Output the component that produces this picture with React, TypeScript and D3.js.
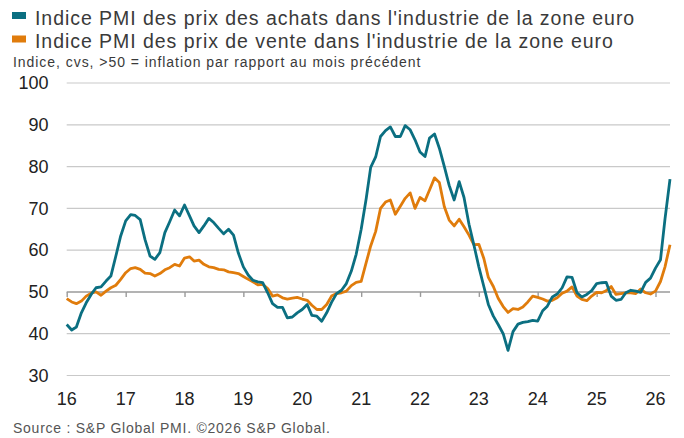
import { useEffect, useRef } from 'react';
import * as d3 from 'd3';

const WIDTH = 684;
const HEIGHT = 438;

const START_YEAR = 2016;
const START_MONTH = 0;

// Indice PMI des prix des achats (teal), mensuel depuis janv. 2016
const inputPrices = [
  42.2, 40.9, 41.6, 45.0, 47.4, 49.4, 51.0, 51.2, 52.6, 53.8, 58.6, 63.4,
  67.0, 68.5, 68.3, 67.3, 62.5, 58.6, 57.8, 59.4, 64.2, 66.8, 69.6, 68.2,
  70.8, 68.2, 65.8, 64.2, 65.8, 67.6, 66.6, 65.2, 63.9, 65.0, 63.6, 59.3,
  56.0, 54.0, 52.8, 52.4, 52.2, 49.8, 47.2, 46.3, 46.3, 43.8, 44.0, 45.0,
  45.8, 47.0, 44.4, 44.2, 43.0, 45.0, 47.5, 49.6, 50.4, 52.0, 55.0, 59.0,
  65.0, 72.3, 79.8, 82.3, 87.2, 88.6, 89.5, 87.2, 87.2, 89.8, 88.8, 86.4,
  83.5, 82.4, 86.8, 87.8, 84.4, 80.0, 75.5, 72.0, 76.4, 72.6, 66.2, 61.3,
  56.0, 51.3, 47.0, 44.2, 42.2, 40.0, 36.0, 40.5, 42.3, 42.7, 42.9, 43.2,
  43.0, 45.5, 46.6, 48.8, 49.5, 51.0, 53.6, 53.5, 49.8, 48.8, 49.4, 50.3,
  52.0, 52.2, 52.3, 49.0, 48.0, 48.2, 49.8, 50.4, 50.2, 49.9, 52.3, 53.3,
  55.7, 57.7, 67.5, 77.0
];

// Indice PMI des prix de vente (orange)
const outputPrices = [
  48.4, 47.6, 47.2, 47.8, 49.0, 49.7, 50.0, 49.2, 50.2, 51.0, 51.6, 53.0,
  54.6, 55.6, 55.8, 55.4, 54.5, 54.4, 53.8, 54.4, 55.3, 55.8, 56.6, 56.2,
  58.1, 58.4, 57.4, 57.6, 56.6, 56.0, 55.8, 55.4, 55.3, 54.8, 54.6, 54.4,
  53.7, 53.0, 52.4, 51.7, 51.8, 50.8, 49.0, 49.3, 48.6, 48.3, 48.5, 48.7,
  48.3, 48.0, 46.8, 45.8, 45.8, 47.0, 49.0, 49.6, 49.8, 50.2, 51.5, 52.3,
  52.5, 57.0, 61.0, 64.5, 70.0, 71.5, 72.0, 68.6, 70.5, 72.4, 73.7, 70.0,
  72.6, 71.8, 74.4, 77.3, 76.2, 70.4, 67.2, 65.8, 67.4, 65.6, 63.6, 61.3,
  61.4, 58.0, 53.5, 51.3, 48.5, 46.5, 45.1, 46.0, 45.8, 46.4, 47.6, 49.0,
  48.7, 48.3, 47.8, 48.0, 48.6, 49.7, 50.2, 51.2, 49.0, 48.2, 47.9, 49.0,
  49.9, 49.8, 50.3, 51.3, 49.4, 49.6, 49.8, 49.8, 49.6, 50.7, 49.8, 49.5,
  50.2, 52.5, 56.0, 61.3
];

const yTicks = [30, 40, 50, 60, 70, 80, 90, 100];

const legendItems = [
  { label: "Indice PMI des prix des achats dans l'industrie de la zone euro", color: '#0b6f81' },
  { label: "Indice PMI des prix de vente dans l'industrie de la zone euro", color: '#e07c0c' }
];

const subtitle = 'Indice, cvs, >50 = inflation par rapport au mois précédent';
const sourceText = 'Source : S&P Global PMI. ©2026 S&P Global.';

const FONT = '"Liberation Sans", Arial, sans-serif';

export default function App() {
  const svgRef = useRef<SVGSVGElement>(null);

  useEffect(() => {
    if (!svgRef.current) return;
    const svg = d3.select(svgRef.current);
    svg.selectAll('*').remove();

    const dates = inputPrices.map((_, i) => new Date(START_YEAR, START_MONTH + i, 1));

    const x = d3.scaleTime()
      .domain([dates[0], dates[dates.length - 1]])
      .range([66.7, 670]);

    const y = d3.scaleLinear()
      .domain([30, 100])
      .range([375.5, 83]);

    // Légende
    legendItems.forEach((item, i) => {
      svg.append('rect')
        .attr('x', 12)
        .attr('y', 12 + i * 23.5)
        .attr('width', 14)
        .attr('height', 7)
        .attr('fill', item.color);
      svg.append('text')
        .attr('x', 35)
        .attr('y', 24.5 + i * 23.5)
        .attr('font-family', FONT)
        .attr('font-size', '19.5px')
        .attr('letter-spacing', '0.95px')
        .attr('fill', '#3a3a3a')
        .text(item.label);
    });

    svg.append('text')
      .attr('x', 13)
      .attr('y', 66.5)
      .attr('font-family', FONT)
      .attr('font-size', '14px')
      .attr('letter-spacing', '0.95px')
      .attr('fill', '#3a3a3a')
      .text(subtitle);

    // Grille horizontale
    const grid = svg.append('g');
    yTicks.filter(t => t !== 50).forEach(t => {
      grid.append('line')
        .attr('x1', 66.7)
        .attr('x2', 670)
        .attr('y1', y(t))
        .attr('y2', y(t))
        .attr('stroke', '#c9c9c9')
        .attr('stroke-width', 1.2);
    });

    // Axe Y (étiquettes)
    yTicks.forEach(t => {
      svg.append('text')
        .attr('x', 48.5)
        .attr('y', y(t))
        .attr('dy', '0.35em')
        .attr('text-anchor', 'end')
        .attr('font-family', FONT)
        .attr('font-size', '18px')
        .attr('fill', '#222')
        .text(t);
    });

    // Axe X posé sur la ligne 50
    const years = d3.timeYear.range(new Date(2016, 0, 1), new Date(2026, 1, 1));
    const xAxis = d3.axisBottom(x)
      .tickValues(years)
      .tickSize(5)
      .tickFormat(() => '');
    const axisG = svg.append('g')
      .attr('transform', `translate(0,${y(50)})`)
      .call(xAxis);
    axisG.select('.domain').attr('stroke', '#9a9a9a').attr('stroke-width', 1.4)
      .attr('d', `M66.7,0H670`);
    axisG.selectAll('.tick line').attr('stroke', '#9a9a9a').attr('stroke-width', 1.4);

    // Étiquettes des années en bas
    years.forEach(d => {
      svg.append('text')
        .attr('x', x(d))
        .attr('y', 405)
        .attr('text-anchor', 'middle')
        .attr('font-family', FONT)
        .attr('font-size', '18px')
        .attr('fill', '#222')
        .text(d3.timeFormat('%y')(d));
    });

    // Courbes
    const line = d3.line<number>()
      .x((_, i) => x(dates[i]))
      .y(v => y(v));

    svg.append('path')
      .datum(outputPrices)
      .attr('d', line)
      .attr('fill', 'none')
      .attr('stroke', legendItems[1].color)
      .attr('stroke-width', 2.8)
      .attr('stroke-linejoin', 'round');

    svg.append('path')
      .datum(inputPrices)
      .attr('d', line)
      .attr('fill', 'none')
      .attr('stroke', legendItems[0].color)
      .attr('stroke-width', 2.8)
      .attr('stroke-linejoin', 'round');

    svg.append('text')
      .attr('x', 13)
      .attr('y', 433)
      .attr('font-family', FONT)
      .attr('font-size', '14px')
      .attr('letter-spacing', '0.75px')
      .attr('fill', '#555')
      .text(sourceText);
  }, []);

  return (
    <svg
      ref={svgRef}
      width={WIDTH}
      height={HEIGHT}
      style={{ position: 'absolute', left: 0, top: 0, background: '#fff' }}
    />
  );
}
